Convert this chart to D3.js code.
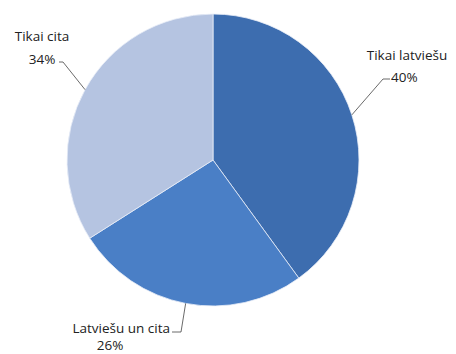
<!DOCTYPE html>
<html>
<head>
<meta charset="utf-8">
<script src="https://cdn.jsdelivr.net/npm/d3@7/dist/d3.min.js"></script>
<style>
  body { margin: 0; background: #fff; }
  svg text { font-family: "Open Sans", "Noto Sans", sans-serif; fill: #222; }
</style>
</head>
<body>
<svg id="chart" width="456" height="354"></svg>
<script>
const categories = ["Tikai latviešu", "Latviešu un cita", "Tikai cita"];
const values = [40, 26, 34];
const percentLabels = ["40%", "26%", "34%"];
const colours = ["#3d6daf", "#4a7fc6", "#b5c4e1"];

// label layout: elbow + tail of the leader line, then where the two text lines go
const labelLayout = [
    { elbow: [383, 79], tail: [390, 79], name: [407, 60, "middle"], pct: [391, 82, "start"] },
    { elbow: [181, 332], tail: [172, 332], name: [170, 333, "end"], pct: [110, 350, "middle"] },
    { elbow: [63, 62], tail: [59, 62], name: [42, 41, "middle"], pct: [42, 64, "middle"] }
];

const width = 456, height = 354;
const cx = 213, cy = 160, radius = 146;

const svg = d3.select("#chart");
const g = svg.append("g").attr("transform", `translate(${cx},${cy})`);

const pie = d3.pie().sort(null).value(d => d.value);
const arc = d3.arc().innerRadius(0).outerRadius(radius);
const edgeArc = d3.arc().innerRadius(radius).outerRadius(radius);

const data = categories.map((c, i) => ({ name: c, value: values[i], pct: percentLabels[i], colour: colours[i], layout: labelLayout[i] }));
const slices = pie(data);

g.selectAll("path.slice")
    .data(slices)
    .join("path")
    .attr("class", "slice")
    .attr("d", arc)
    .attr("fill", d => d.data.colour)
    .attr("stroke", "#e8eef8")
    .attr("stroke-width", 0.8);

svg.selectAll("polyline.leader")
    .data(slices)
    .join("polyline")
    .attr("class", "leader")
    .attr("fill", "none")
    .attr("stroke", "#444")
    .attr("stroke-width", 0.8)
    .attr("points", d => {
        const e = edgeArc.centroid(d);
        const l = d.data.layout;
        return [[e[0] + cx, e[1] + cy], l.elbow, l.tail].map(p => p.join(",")).join(" ");
    });

svg.selectAll("text.name")
    .data(slices)
    .join("text")
    .attr("class", "name")
    .attr("x", d => d.data.layout.name[0])
    .attr("y", d => d.data.layout.name[1])
    .attr("text-anchor", d => d.data.layout.name[2])
    .attr("font-size", 13.5)
    .text(d => d.data.name);

svg.selectAll("text.pct")
    .data(slices)
    .join("text")
    .attr("class", "pct")
    .attr("x", d => d.data.layout.pct[0])
    .attr("y", d => d.data.layout.pct[1])
    .attr("text-anchor", d => d.data.layout.pct[2])
    .attr("font-size", 13.5)
    .text(d => d.data.pct);
</script>
</body>
</html>
